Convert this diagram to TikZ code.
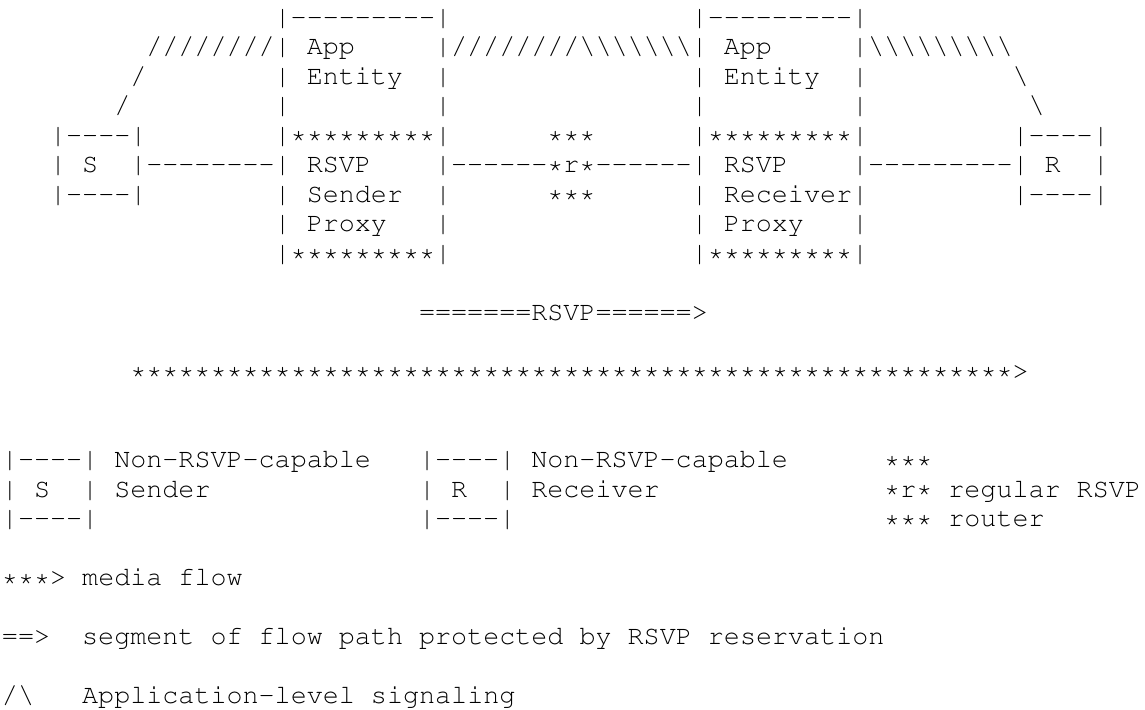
\documentclass[tikz,border=0pt]{standalone}
\usepackage[T1]{fontenc}
\usepackage{tikz}
\usetikzlibrary{positioning}

\newcommand{\asciifont}{\fontfamily{pcr}\fontsize{13.37pt}{14.75pt}\selectfont}
\newcommand{\bs}{\textbackslash}
\newcommand{\dashes}[1]{\foreach \i in {1,...,#1}{-}}
\tikzset{
  asc/.style={anchor=base west, inner sep=0pt, outer sep=0pt, font=\asciifont},
}

\begin{document}
\begin{tikzpicture}[x=8.02pt, y=-14.75pt]
    \useasboundingbox (-1pt,12.5pt) rectangle (571.5pt,-342pt);

    % sender proxy box
    \node[asc] (sp0) at (17,0) {|\dashes{9}|};
    \node[asc] (sp1) at (17,1) {| App~~~~~|};
    \node[asc] (sp2) at (17,2) {| Entity~~|};
    \node[asc] (sp3) at (17,3) {|~~~~~~~~~|};
    \node[asc] (sp4) at (17,4) {|*********|};
    \node[asc] (sp5) at (17,5) {| RSVP~~~~|};
    \node[asc] (sp6) at (17,6) {| Sender~~|};
    \node[asc] (sp7) at (17,7) {| Proxy~~~|};
    \node[asc] (sp8) at (17,8) {|*********|};

    % receiver proxy box
    \node[asc] (rp0) at (43,0) {|\dashes{9}|};
    \node[asc] (rp1) at (43,1) {| App~~~~~|};
    \node[asc] (rp2) at (43,2) {| Entity~~|};
    \node[asc] (rp3) at (43,3) {|~~~~~~~~~|};
    \node[asc] (rp4) at (43,4) {|*********|};
    \node[asc] (rp5) at (43,5) {| RSVP~~~~|};
    \node[asc] (rp6) at (43,6) {| Receiver|};
    \node[asc] (rp7) at (43,7) {| Proxy~~~|};
    \node[asc] (rp8) at (43,8) {|*********|};

    % end hosts
    \node[asc] (s4) at (3,4) {|\dashes{4}|};
    \node[asc] (s5) at (3,5) {| S~~|};
    \node[asc] (s6) at (3,6) {|\dashes{4}|};
    \node[asc] (r4) at (63,4) {|\dashes{4}|};
    \node[asc] (r5) at (63,5) {| R~~|};
    \node[asc] (r6) at (63,6) {|\dashes{4}|};

    % router
    \node[asc] (rt4) at (34,4) {***};
    \node[asc] (rt6) at (34,6) {***};

    % links
    \node[asc] (l1) at (9,5) {\dashes{8}};
    \node[asc] (l2) at (28,5) {\dashes{6}*r*\dashes{6}};
    \node[asc] (l3) at (54,5) {\dashes{9}};

    % application-level signaling
    \node[asc] (a1) at (9,1) {////////};
    \node[asc] (a2) at (8,2) {/};
    \node[asc] (a3) at (7,3) {/};
    \node[asc] (a4) at (28,1) {////////\bs\bs\bs\bs\bs\bs\bs};
    \node[asc] (a5) at (54,1) {\bs\bs\bs\bs\bs\bs\bs\bs\bs};
    \node[asc] (a6) at (63,2) {\bs};
    \node[asc] (a7) at (64,3) {\bs};

    % flows
    \node[asc] (rsvp) at (26,10) {=======RSVP======>};
    \node[asc] (media) at (8,12) {*******************************************************>};

    % legend
    \node[asc] (ks0) at (0,15) {|\dashes{4}|};
    \node[asc] (ks1) at (0,16) {| S~~|};
    \node[asc] (ks2) at (0,17) {|\dashes{4}|};
    \node[asc] (kst0) at (7,15) {Non-RSVP-capable};
    \node[asc] (kst1) at (7,16) {Sender};
    \node[asc] (kr0) at (26,15) {|\dashes{4}|};
    \node[asc] (kr1) at (26,16) {| R~~|};
    \node[asc] (kr2) at (26,17) {|\dashes{4}|};
    \node[asc] (krt0) at (33,15) {Non-RSVP-capable};
    \node[asc] (krt1) at (33,16) {Receiver};
    \node[asc] (kx0) at (55,15) {***};
    \node[asc] (kx1) at (55,16) {*r* regular RSVP};
    \node[asc] (kx2) at (55,17) {*** router};
    \node[asc] (kmedia) at (0,19) {***> media flow};
    \node[asc] (kres) at (0,21) {==>};
    \node[asc] (kres1) at (5,21) {segment of flow path protected by RSVP reservation};
    \node[asc] (ksig) at (0,23) {/\bs};
    \node[asc] (ksig1) at (5,23) {Application-level signaling};
\end{tikzpicture}
\end{document}
